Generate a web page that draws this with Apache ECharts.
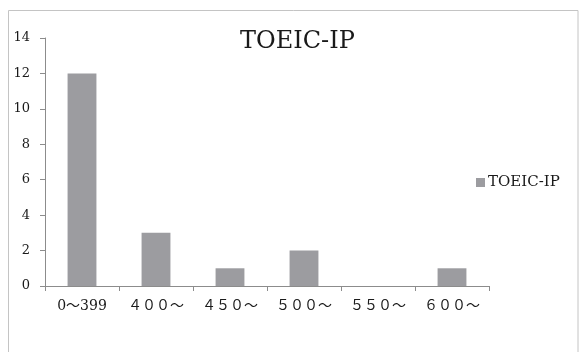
<!DOCTYPE html>
<html>
<head>
<meta charset="utf-8">
<script src="https://cdn.jsdelivr.net/npm/echarts@6/dist/echarts.min.js"></script>
<style>html,body{margin:0;padding:0;background:#fff}#c{width:579px;height:352px}</style>
</head>
<body>
<div id="c"></div>
<script>
const categories = ['0～399', '４００～', '４５０～', '５００～', '５５０～', '６００～'];
const values = [12, 3, 1, 2, 0, 1];
const seriesName = 'TOEIC-IP';
const titleText = 'TOEIC-IP';

const FONT = '"DejaVu Serif", "Noto Sans CJK JP", serif';
const chart = echarts.init(document.getElementById('c'), null, {renderer: 'canvas'});
chart.setOption({
  animation: false,
  backgroundColor: '#fff',
  graphic: [{
    type: 'rect',
    shape: {x: 8.5, y: 10.5, width: 569.5, height: 400},
    style: {fill: 'none', stroke: '#c4c4c4', lineWidth: 1},
    silent: true
  }],
  title: {
    text: titleText,
    left: 240,
    top: 30,
    padding: 0,
    textStyle: {fontFamily: FONT, fontSize: 24, fontWeight: 'normal', color: '#1a1a1a'}
  },
  legend: {
    orient: 'vertical',
    left: 476,
    top: 175,
    padding: 0,
    icon: 'rect',
    itemWidth: 9,
    itemHeight: 9,
    textStyle: {fontFamily: FONT, fontSize: 15, color: '#1a1a1a', padding: [0, 0, 0, -2]},
    data: [seriesName]
  },
  grid: {left: 45, right: 90, top: 38, bottom: 66, containLabel: false},
  xAxis: {
    type: 'category',
    data: categories,
    axisLine: {lineStyle: {color: '#8c8c8c', width: 1}},
    axisTick: {show: true, length: 5, lineStyle: {color: '#8c8c8c'}},
    axisLabel: {fontFamily: FONT, fontSize: 14, color: '#1a1a1a', margin: 13, interval: 0}
  },
  yAxis: {
    type: 'value',
    min: 0,
    max: 14,
    interval: 2,
    splitLine: {show: false},
    axisLine: {show: true, lineStyle: {color: '#8c8c8c', width: 1}},
    axisTick: {show: true, length: 5, lineStyle: {color: '#8c8c8c'}},
    axisLabel: {fontFamily: FONT, fontSize: 13, color: '#1a1a1a', margin: 15}
  },
  series: [{
    name: seriesName,
    type: 'bar',
    data: values,
    barWidth: '39%',
    itemStyle: {color: '#9c9ca0'}
  }]
});
</script>
</body>
</html>
